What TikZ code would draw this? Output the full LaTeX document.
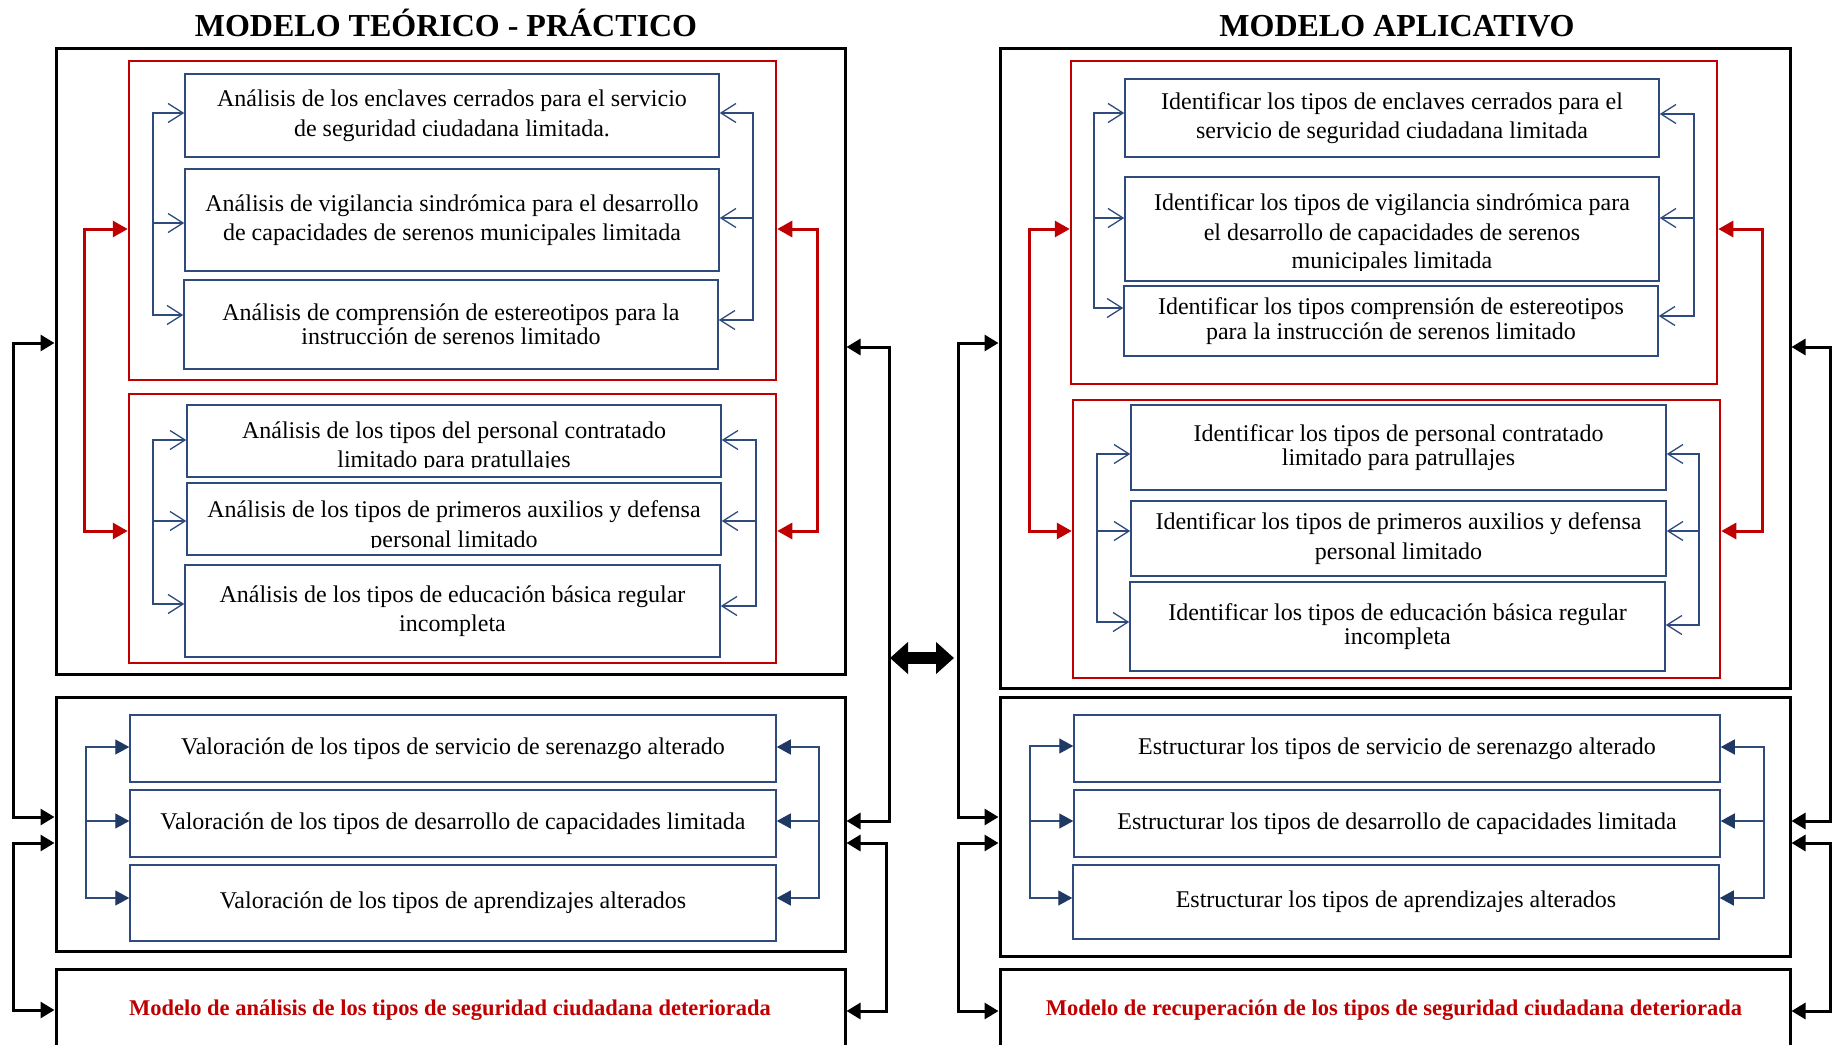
\documentclass[tikz,border=0pt]{standalone}
\usepackage{fontspec}
\setmainfont{Liberation Serif}
\usetikzlibrary{arrows.meta}
\definecolor{bcol}{RGB}{47,74,125}
\definecolor{bfill}{RGB}{31,56,100}
\definecolor{rcol}{RGB}{192,0,0}
\newcommand{\bxfont}{\fontsize{24}{29.5}\selectfont}
\newcommand{\bxtight}{\fontsize{24}{24.5}\selectfont}
% #1 style, #2 side, #3 x, #4 #5 #6 y's, #7 #8 #9 nodes
\newcommand{\tribr}[9]{%
  \coordinate (q1) at (#3,#4); \coordinate (q2) at (#3,#5); \coordinate (q3) at (#3,#6);
  \draw[#1,spine] (q1) -- (q3);
  \draw[#1] (q1) -- (q1 -| #7.#2);
  \draw[#1] (q2) -- (q2 -| #8.#2);
  \draw[#1] (q3) -- (q3 -| #9.#2);}
% #1 style, #2 side, #3 x, #4 #5 y's, #6 #7 nodes
\newcommand{\duobr}[7]{%
  \coordinate (q1) at (#3,#4); \coordinate (q2) at (#3,#5);
  \draw[#1,spine] (q1) -- (q2);
  \draw[#1] (q1) -- (q1 -| #6.#2);
  \draw[#1] (q2) -- (q2 -| #7.#2);}
\begin{document}
\begin{tikzpicture}[x=1pt,y=-1pt,
  wh/.style 2 args={minimum width=#1pt, minimum height=#2pt},
  bbox/.style={draw=bcol, line width=1.5pt, inner sep=0pt, align=center, font=\bxfont},
  tight/.style={font=\bxtight},
  rbox/.style={draw=rcol, line width=2.5pt, inner sep=0pt},
  obox/.style={draw=black, line width=3pt, inner sep=0pt},
  txt/.style={inner sep=0pt, font=\bxfont, anchor=base},
  ttl/.style={inner sep=0pt, anchor=base, font=\fontsize{32}{36}\selectfont\bfseries},
  rtxt/.style={inner sep=0pt, anchor=base, text=rcol, font=\fontsize{22.5}{26}\selectfont\bfseries},
  opn/.style={draw=bcol, line width=1.3pt, -{Straight Barb[length=15pt,width=19pt]}},
  fil/.style={draw=bcol, line width=1.3pt, -{Triangle[length=14pt,width=15pt,color=bfill]}},
  rarr/.style={draw=rcol, line width=3pt, -{Triangle[length=15pt,width=16pt]}},
  karr/.style={draw=black, line width=3pt, -{Triangle[length=14pt,width=16pt]}},
  spine/.style={arrows=-, line cap=rect}
]
\path[use as bounding box, fill=white] (0,0) rectangle (1833,1044);

% ---------- titles ----------
\node[ttl] (t1) at (446,36) {MODELO TEÓRICO - PRÁCTICO};
\node[ttl] (t2) at (1397,36) {MODELO APLICATIVO};

% ---------- left: outer and red boxes ----------
\node[obox, wh={789}{626}] (O1) at (450.5,361) {};
\node[obox, wh={789}{254}] (O2) at (450.5,824) {};
\node[obox, wh={789}{81}] (O3) at (450.5,1009.5) {};
\node[rbox, wh={647}{319}] (R1) at (452.5,220.5) {};
\node[rbox, wh={647}{269}] (R2) at (452.5,528.5) {};

% ---------- left: blue boxes ----------
\node[bbox, wh={534}{83}] (b1) at (452,115.5) {Análisis de los enclaves cerrados para el servicio\\de seguridad ciudadana limitada.};
\node[bbox, wh={534}{102}] (b2) at (452,220) {Análisis de vigilancia sindrómica para el desarrollo\\de capacidades de serenos municipales limitada};
\node[bbox, tight, wh={534}{89}] (b3) at (451,324.5) {Análisis de comprensión de estereotipos para la\\instrucción de serenos limitado};
\node[bbox, wh={534}{72}] (b4) at (454,441) {};
\begin{scope}
  \clip (187,405) rectangle (721,467.5);
  \node[txt] (b4a) at (454,438) {Análisis de los tipos del personal contratado};
  \node[txt] (b4b) at (454,467) {limitado para pratullajes};
\end{scope}
\node[bbox, wh={534}{72}] (b5) at (454,519) {};
\begin{scope}
  \clip (187,483) rectangle (721,547.5);
  \node[txt] (b5a) at (454,517) {Análisis de los tipos de primeros auxilios y defensa};
  \node[txt] (b5b) at (454,547) {personal limitado};
\end{scope}
\node[bbox, wh={535}{92}] (b6) at (452.5,611) {Análisis de los tipos de educación básica regular\\incompleta};
\node[bbox, wh={646}{67}] (v1) at (453,748.5) {Valoración de los tipos de servicio de serenazgo alterado};
\node[bbox, wh={646}{67}] (v2) at (453,823.5) {Valoración de los tipos de desarrollo de capacidades limitada};
\node[bbox, wh={646}{76}] (v3) at (453,903) {Valoración de los tipos de aprendizajes alterados};
\node[rtxt] (m1) at (450,1015) {Modelo de análisis de los tipos de seguridad ciudadana deteriorada};

% ---------- right: outer and red boxes ----------
\node[obox, wh={790}{640}] (O4) at (1395,368) {};
\node[obox, wh={790}{259}] (O5) at (1395,826.5) {};
\node[obox, wh={790}{81}] (O6) at (1395,1009.5) {};
\node[rbox, wh={646}{323}] (R3) at (1394,222.5) {};
\node[rbox, wh={647}{278}] (R4) at (1396.5,539) {};

% ---------- right: blue boxes ----------
\node[bbox, wh={534}{78}] (c1) at (1392,118) {Identificar los tipos de enclaves cerrados para el\\servicio de seguridad ciudadana limitada};
\node[bbox, wh={534}{104}] (c2) at (1392,229) {};
\begin{scope}
  \clip (1125,177) rectangle (1659,270);
  \node[txt] (c2a) at (1392,210) {Identificar los tipos de vigilancia sindrómica para};
  \node[txt] (c2b) at (1392,240) {el desarrollo de capacidades de serenos};
  \node[txt] (c2c) at (1392,268) {municipales limitada};
\end{scope}
\node[bbox, tight, wh={534}{70}] (c3) at (1391,321) {Identificar los tipos comprensión de estereotipos\\para la instrucción de serenos limitado};
\node[bbox, tight, wh={535}{85}] (c4) at (1398.5,447.5) {Identificar los tipos de personal contratado\\limitado para patrullajes};
\node[bbox, wh={535}{75}] (c5) at (1398.5,538.5) {Identificar los tipos de primeros auxilios y defensa\\personal limitado};
\node[bbox, tight, wh={535}{89}] (c6) at (1397.5,626.5) {Identificar los tipos de educación básica regular\\incompleta};
\node[bbox, wh={646}{67}] (e1) at (1397,748.5) {Estructurar los tipos de servicio de serenazgo alterado};
\node[bbox, wh={646}{67}] (e2) at (1397,823.5) {Estructurar los tipos de desarrollo de capacidades limitada};
\node[bbox, wh={646}{74}] (e3) at (1396,902) {Estructurar los tipos de aprendizajes alterados};
\node[rtxt] (m2) at (1394,1015) {Modelo de recuperación de los tipos de seguridad ciudadana deteriorada};

% ---------- blue connectors ----------
\tribr{opn}{west}{153}{113}{223}{315}{b1}{b2}{b3}
\tribr{opn}{east}{753}{113}{218}{320}{b1}{b2}{b3}
\tribr{opn}{west}{153}{440}{521}{604}{b4}{b5}{b6}
\tribr{opn}{east}{756}{440}{521}{606}{b4}{b5}{b6}
\tribr{fil}{west}{86}{747}{821}{898}{v1}{v2}{v3}
\tribr{fil}{east}{819}{747}{821}{898}{v1}{v2}{v3}
\tribr{opn}{west}{1094}{113}{218}{308}{c1}{c2}{c3}
\tribr{opn}{east}{1694}{114}{218}{316}{c1}{c2}{c3}
\tribr{opn}{west}{1097}{454}{531}{622}{c4}{c5}{c6}
\tribr{opn}{east}{1699}{454}{531}{625}{c4}{c5}{c6}
\tribr{fil}{west}{1030}{746}{821}{898}{e1}{e2}{e3}
\tribr{fil}{east}{1764}{747}{821}{898}{e1}{e2}{e3}

% ---------- red connectors ----------
\duobr{rarr}{west}{84}{229}{531}{R1}{R2}
\duobr{rarr}{east}{817}{229}{531}{R1}{R2}
\duobr{rarr}{west}{1029}{229}{531}{R3}{R4}
\duobr{rarr}{east}{1762}{229}{531}{R3}{R4}

% ---------- black connectors ----------
\duobr{karr}{west}{13}{343}{817}{O1}{O2}
\duobr{karr}{west}{13}{843}{1010}{O2}{O3}
\duobr{karr}{east}{889}{347}{821}{O1}{O2}
\duobr{karr}{east}{886}{843}{1011}{O2}{O3}
\duobr{karr}{west}{958}{343}{817}{O4}{O5}
\duobr{karr}{west}{958}{843}{1011}{O5}{O6}
\duobr{karr}{east}{1830}{347}{821}{O4}{O5}
\duobr{karr}{east}{1830}{843}{1011}{O5}{O6}

% ---------- central double arrow ----------
\coordinate (da) at (890,658);
\coordinate (db) at (954,658);
\draw[line width=12pt, {Triangle[length=18pt,width=31pt]}-{Triangle[length=18pt,width=31pt]}] (da) -- (db);
\end{tikzpicture}
\end{document}
